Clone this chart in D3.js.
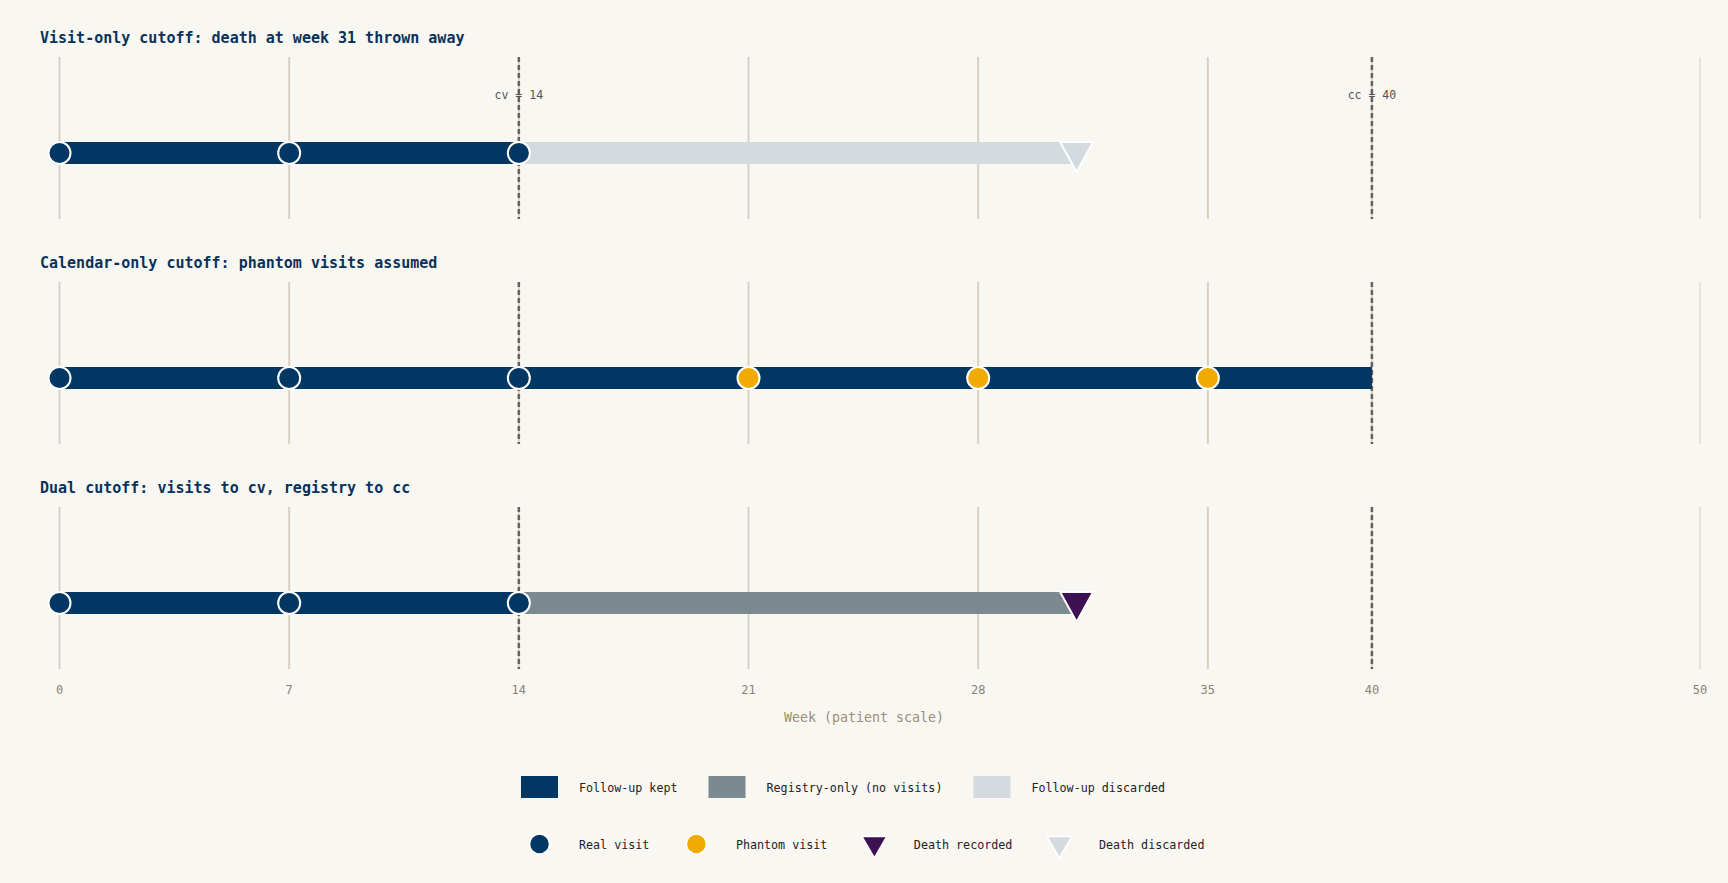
<!DOCTYPE html>
<html>
<head>
<meta charset="utf-8">
<script src="https://cdn.jsdelivr.net/npm/d3@7"></script>
<style>
  html, body { margin: 0; padding: 0; background: #f9f7f2; }
  svg { display: block; font-family: "DejaVu Sans Mono", "Liberation Mono", monospace; }
</style>
</head>
<body>
<svg id="chart" width="1728" height="883"></svg>
<script>
// ---- data ----
const panelTitles = [
  "Visit-only cutoff: death at week 31 thrown away",
  "Calendar-only cutoff: phantom visits assumed",
  "Dual cutoff: visits to cv, registry to cc"
];
const tickWeeks = [0, 7, 14, 21, 28, 35, 40, 50];
const cutoffNames = ["cv", "cc"];
const cutoffWeeks = [14, 40];

// [start, end, kind] per panel
const segments = [
  [[0, 14, "kept"], [14, 31, "discarded"]],
  [[0, 40, "kept"]],
  [[0, 14, "kept"], [14, 31, "registry"]]
];
const realVisits = [[0, 7, 14], [0, 7, 14], [0, 7, 14]];
const phantomVisits = [[], [21, 28, 35], []];
const deathWeeks = [[31], [], [31]];
const deathKinds = [["discarded"], [], ["recorded"]];

const legendBarKeys = ["kept", "registry", "discarded"];
const legendBarLabels = ["Follow-up kept", "Registry-only (no visits)", "Follow-up discarded"];
const legendMarkKeys = ["real", "phantom", "deathRecorded", "deathDiscarded"];
const legendMarkLabels = ["Real visit", "Phantom visit", "Death recorded", "Death discarded"];

// ---- styles ----
const colors = {
  kept: "#023764",
  registry: "#7b8a91",
  discarded: "#d4dbdf",
  real: "#023764",
  phantom: "#f1aa00",
  recorded: "#3e1152",
  grid: "#d9d0c0",
  cutoff: "#626262",
  title: "#08325c"
};

const svg = d3.select("#chart");
const x = d3.scaleLinear().domain([0, 50]).range([59.5, 1700]);

const panelTop = 57, panelH = 162, panelStep = 225, barOffset = 96, barH = 22;

// triangle pointing down, centered around (0,0)
function tri(w, top, bottom) {
  return `M${-w / 2},${-top}L${w / 2},${-top}L0,${bottom}Z`;
}

panelTitles.forEach((title, p) => {
  const g = svg.append("g").attr("transform", `translate(0,${p * panelStep})`);
  const cy = panelTop + barOffset;

  g.append("text")
    .attr("x", 40)
    .attr("y", 42.5)
    .attr("font-size", 15)
    .attr("font-weight", "bold")
    .attr("fill", colors.title)
    .text(title);

  // grid lines
  g.selectAll(".grid")
    .data(tickWeeks)
    .join("line")
    .attr("class", "grid")
    .attr("x1", d => x(d)).attr("x2", d => x(d))
    .attr("y1", panelTop).attr("y2", panelTop + panelH)
    .attr("stroke", colors.grid)
    .attr("stroke-width", 2)
    .attr("opacity", d => d === 50 ? 0.5 : 1);

  // cutoff lines
  g.selectAll(".cut")
    .data(cutoffWeeks)
    .join("line")
    .attr("class", "cut")
    .attr("x1", d => x(d)).attr("x2", d => x(d))
    .attr("y1", panelTop).attr("y2", panelTop + panelH)
    .attr("stroke", colors.cutoff)
    .attr("stroke-width", 2.5)
    .attr("stroke-dasharray", "5,3");

  if (p === 0) {
    g.selectAll(".cutlabel")
      .data(cutoffWeeks)
      .join("text")
      .attr("class", "cutlabel")
      .attr("x", d => x(d))
      .attr("y", 99)
      .attr("text-anchor", "middle")
      .attr("font-size", 11.5)
      .attr("fill", "#555")
      .text((d, i) => `${cutoffNames[i]} = ${d}`);
  }

  // bars
  g.selectAll(".seg")
    .data(segments[p])
    .join("rect")
    .attr("class", "seg")
    .attr("x", d => x(d[0]))
    .attr("width", d => x(d[1]) - x(d[0]))
    .attr("y", cy - barH / 2)
    .attr("height", barH)
    .attr("fill", d => colors[d[2]]);

  // deaths
  g.selectAll(".death")
    .data(deathWeeks[p])
    .join("path")
    .attr("class", "death")
    .attr("transform", d => `translate(${x(d)},${cy})`)
    .attr("d", tri(33, 11, 19))
    .attr("fill", (d, i) => deathKinds[p][i] === "recorded" ? colors.recorded : colors.discarded)
    .attr("stroke", "#fff")
    .attr("stroke-width", 2)
    .attr("stroke-linejoin", "miter");

  // visits
  g.selectAll(".real")
    .data(realVisits[p])
    .join("circle")
    .attr("class", "real")
    .attr("cx", d => x(d)).attr("cy", cy).attr("r", 11)
    .attr("fill", colors.real)
    .attr("stroke", "#fff").attr("stroke-width", 2);

  g.selectAll(".phantom")
    .data(phantomVisits[p])
    .join("circle")
    .attr("class", "phantom")
    .attr("cx", d => x(d)).attr("cy", cy).attr("r", 11)
    .attr("fill", colors.phantom)
    .attr("stroke", "#fff").attr("stroke-width", 2);
});

// x axis labels
svg.append("g")
  .selectAll("text")
  .data(tickWeeks)
  .join("text")
  .attr("x", d => x(d))
  .attr("y", 694)
  .attr("text-anchor", "middle")
  .attr("font-size", 12)
  .attr("fill", "#8c8274")
  .text(d => d);

svg.append("text")
  .attr("x", 864)
  .attr("y", 722)
  .attr("text-anchor", "middle")
  .attr("font-size", 13.3)
  .attr("fill", "#9a8e7e")
  .text("Week (patient scale)");

// legend
function legendRow(keys, labels, y, gap, drawMark) {
  let cx = 521;
  keys.forEach((k, i) => {
    const g = svg.append("g").attr("transform", `translate(${cx},${y})`);
    drawMark(g, k);
    const t = g.append("text")
      .attr("x", 58)
      .attr("y", 4.5)
      .attr("font-size", 11.7)
      .attr("fill", "#222")
      .text(labels[i]);
    cx += 58 + t.node().getComputedTextLength() + gap;
  });
}

legendRow(legendBarKeys, legendBarLabels, 787, 31, (g, k) => {
  g.append("rect")
    .attr("x", 0).attr("y", -11)
    .attr("width", 37).attr("height", 22)
    .attr("fill", colors[k]);
});

legendRow(legendMarkKeys, legendMarkLabels, 844, 28.5, (g, k) => {
  if (k === "real" || k === "phantom") {
    g.append("circle")
      .attr("cx", 18.5).attr("cy", 0).attr("r", 10)
      .attr("fill", colors[k])
      .attr("stroke", "#fff").attr("stroke-width", 1.5);
  } else {
    g.append("path")
      .attr("transform", "translate(18.5,0)")
      .attr("d", tri(25, 7.5, 14))
      .attr("fill", k === "deathRecorded" ? colors.recorded : colors.discarded)
      .attr("stroke", "#fff").attr("stroke-width", 1.5);
  }
});
</script>
</body>
</html>
